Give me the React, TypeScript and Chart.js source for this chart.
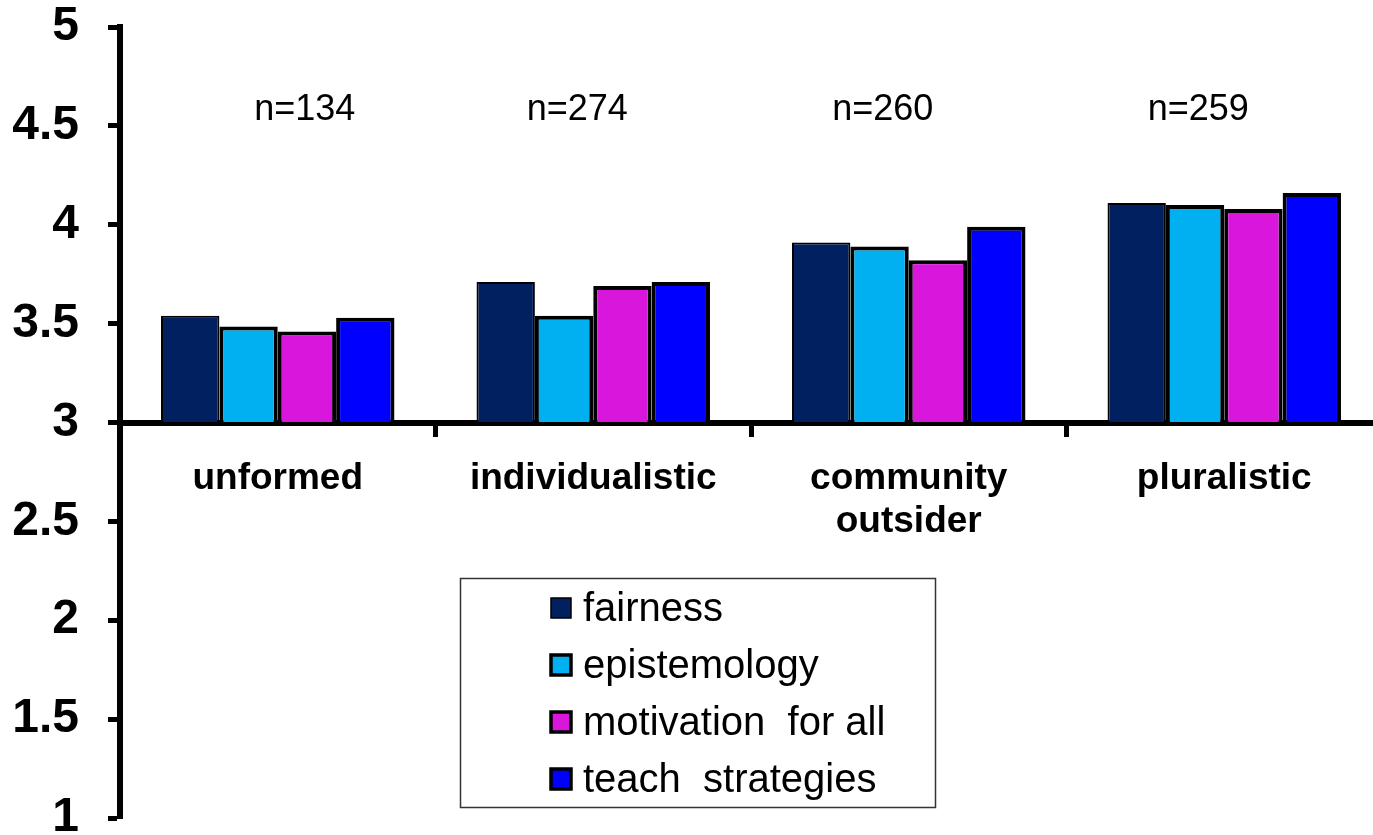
import React, { useEffect, useRef } from "react";
import { Chart, registerables } from "chart.js";

Chart.register(...registerables);

const categories: (string | string[])[] = ["unformed", "individualistic", ["community", "outsider"], "pluralistic"];
const seriesNames = ["fairness", "epistemology", "motivation  for all", "teach  strategies"];
const seriesColors = ["#002060", "#00B0F0", "#D816DC", "#0000FF"];
const seriesBorderWidths = [2, 4, 4, 4];
const fairness = [3.54, 3.71, 3.91, 4.11];
const epistemology = [3.485, 3.54, 3.89, 4.10];
const motivation = [3.46, 3.69, 3.82, 4.08];
const teachStrategies = [3.53, 3.71, 3.99, 4.16];
const nLabels = ["n=134", "n=274", "n=260", "n=259"];
const nLabelOffsets = [27, -16, -26, -26];
const yTicks = [1, 1.5, 2, 2.5, 3, 3.5, 4, 4.5, 5];

const seriesValues = [fairness, epistemology, motivation, teachStrategies];

const FONT = "'Liberation Sans', Arial, sans-serif";

const overlayPlugin = {
  id: "overlay",
  afterDraw(chart: any) {
    const ctx = chart.ctx;
    const xs = chart.scales.x;
    const ys = chart.scales.y;
    ctx.save();
    // n labels
    ctx.font = `36px ${FONT}`;
    ctx.fillStyle = "#000";
    ctx.textAlign = "center";
    ctx.textBaseline = "middle";
    nLabels.forEach((t, i) => {
      ctx.fillText(t, xs.getPixelForValue(i) + nLabelOffsets[i], ys.getPixelForValue(4.58));
    });
    // legend box
    const bx = 460, by = 578, bw = 475, bh = 229;
    ctx.lineWidth = 1.5;
    ctx.strokeStyle = "#333";
    ctx.strokeRect(bx + 0.5, by + 0.5, bw, bh);
    ctx.font = `40px ${FONT}`;
    ctx.textAlign = "left";
    seriesNames.forEach((name, i) => {
      const cy = 608 + i * 57;
      const sw = 20;
      ctx.fillStyle = seriesColors[i];
      ctx.fillRect(551, cy - sw / 2, sw, sw);
      ctx.lineWidth = i === 0 ? 1.5 : 3.5;
      ctx.strokeStyle = "#000";
      ctx.strokeRect(551, cy - sw / 2, sw, sw);
      ctx.fillStyle = "#000";
      ctx.fillText(name, 583, cy + 2);
    });
    ctx.restore();
  },
};

export default function App() {
  const ref = useRef<HTMLCanvasElement | null>(null);
  useEffect(() => {
    if (!ref.current) return;
    const chart = new Chart(ref.current, {
      type: "bar",
      data: {
        labels: categories as any,
        datasets: seriesNames.map((name, i) => ({
          label: name,
          data: seriesValues[i],
          backgroundColor: seriesColors[i],
          borderColor: "#000",
          borderWidth: seriesBorderWidths[i],
          base: 3,
          categoryPercentage: 0.74,
          barPercentage: 1,
        })),
      },
      options: {
        responsive: false,
        animation: false,
        devicePixelRatio: 1,
        layout: { padding: { top: 27, right: 3, bottom: 17, left: 0 } },
        plugins: { legend: { display: false }, tooltip: { enabled: false } },
        scales: {
          x: {
            position: { y: 3 } as any,
            offset: true,
            border: { display: true, color: "#000", width: 6 },
            grid: {
              offset: true,
              drawOnChartArea: false,
              drawTicks: true,
              tickLength: 11,
              tickWidth: 5,
              tickColor: "#000",
            },
            ticks: {
              color: "#000",
              font: { family: FONT, size: 37, weight: "bold", lineHeight: 1.15 },
              padding: 24,
              maxRotation: 0,
              autoSkip: false,
            },
          },
          y: {
            min: 1,
            max: 5,
            afterFit(scale: any) {
              scale.width = 120;
              scale.paddingTop = 0;
              scale.paddingBottom = 0;
            },
            afterBuildTicks(scale: any) {
              scale.ticks = yTicks.map((v) => ({ value: v }));
            },
            border: { display: true, color: "#000", width: 6 },
            grid: {
              drawOnChartArea: false,
              drawTicks: true,
              tickLength: 12,
              tickWidth: 5,
              tickColor: "#000",
            },
            ticks: {
              color: "#000",
              font: { family: FONT, size: 48, weight: "bold" },
              padding: 29,
              callback: (v: any) => String(v),
            },
          },
        },
      },
      plugins: [overlayPlugin],
    });
    return () => chart.destroy();
  }, []);
  return (
    <div style={{ position: "fixed", left: 0, top: 0, width: 1373, height: 835, overflow: "hidden", background: "#fff" }}>
      <canvas ref={ref} width={1385} height={835} style={{ display: "block" }} />
    </div>
  );
}
